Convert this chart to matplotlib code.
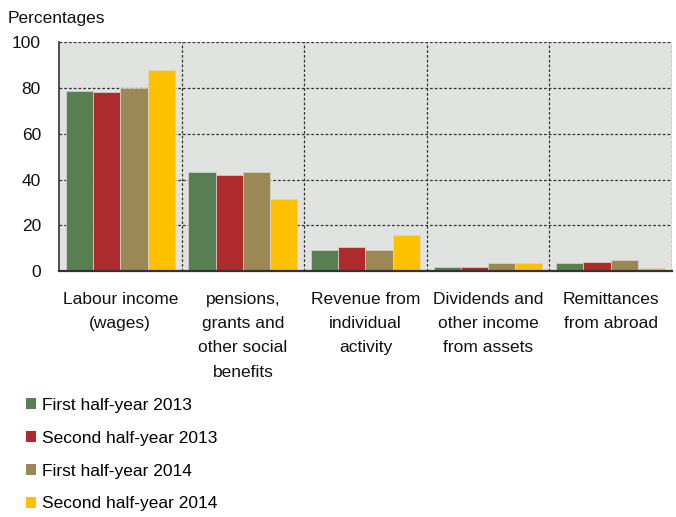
import numpy as np
import matplotlib.pyplot as plt
import matplotlib.transforms as mtransforms
from matplotlib.patches import Patch

plt.rcParams['font.family'] = ['Liberation Sans', 'DejaVu Sans']
plt.rcParams['font.size'] = 12.5

# --- Data ---
categories = ["Labour income\n(wages)",
              "pensions,\ngrants and\nother social\nbenefits",
              "Revenue from\nindividual\nactivity",
              "Dividends and\nother income\nfrom assets",
              "Remittances\nfrom abroad"]
series_names = ["First half-year 2013", "Second half-year 2013",
                "First half-year 2014", "Second half-year 2014"]
h1_2013 = [78.8, 43.3, 9.3, 1.6, 3.4]
h2_2013 = [78.2, 42.0, 10.4, 1.6, 4.1]
h1_2014 = [80.0, 43.5, 9.1, 3.5, 4.8]
h2_2014 = [87.8, 31.5, 15.8, 3.6, 1.3]
values = [h1_2013, h2_2013, h1_2014, h2_2014]
colors = ['#577F52', '#AE2B2D', '#9B8855', '#FFC000']
yticks = [0, 20, 40, 60, 80, 100]

# --- Figure ---
fig = plt.figure(figsize=(6.76, 5.17), dpi=100)
ax = fig.add_axes([0.0873, 0.4758, 0.9067, 0.442])
ax.set_facecolor('#E1E3E0')

x = np.arange(len(categories))
w = 0.222
for i, (vals, c) in enumerate(zip(values, colors)):
    ax.bar(x + (i - 1.5) * w, vals, width=w, color=c, zorder=3,
           edgecolor='#D8D8D0', linewidth=0.5)

# dashed grid: value lines plus category separators
grid_style = dict(color='#333333', linestyle=(0, (2.2, 1.6)), linewidth=0.9, zorder=1)
for yv in yticks[1:]:
    ax.axhline(yv, **grid_style)
for xv in np.arange(len(categories)) + 0.5:
    ax.axvline(xv, **grid_style)

ax.set_xlim(-0.5, len(categories) - 0.5)
ax.set_ylim(0, 100)
ax.set_yticks(yticks)
ax.set_xticks(x)
ax.set_xticklabels([])
ax.tick_params(axis='both', length=0, colors='#111111', labelsize=12.5)
ax.tick_params(axis='y', pad=13)

# category labels, placed by hand to get wider line spacing
trans = mtransforms.blended_transform_factory(ax.transData, ax.transAxes)
for xi, lab in zip(x, categories):
    ax.text(xi, -0.091, lab, transform=trans, ha='center', va='top',
            linespacing=1.77, fontsize=12.5, color='#111111')

for s in ['top', 'right']:
    ax.spines[s].set_visible(False)
ax.spines['left'].set_color('#333333')
ax.spines['left'].set_linewidth(1.2)
ax.spines['bottom'].set_color('#333333')
ax.spines['bottom'].set_linewidth(1.6)
ax.spines['left'].set_zorder(4)
ax.spines['bottom'].set_zorder(4)

fig.text(0.012, 0.965, "Percentages", ha='left', va='center', fontsize=12.5, color='#111111')

handles = [Patch(facecolor=c, edgecolor='none') for c in colors]
fig.legend(handles, series_names, loc='upper left', bbox_to_anchor=(0.038, 0.23),
           frameon=False, handlelength=0.6, handleheight=0.6, handletextpad=0.35,
           labelspacing=1.02, borderaxespad=0, borderpad=0, fontsize=12.5)

fig.savefig('out.png', dpi=100)
